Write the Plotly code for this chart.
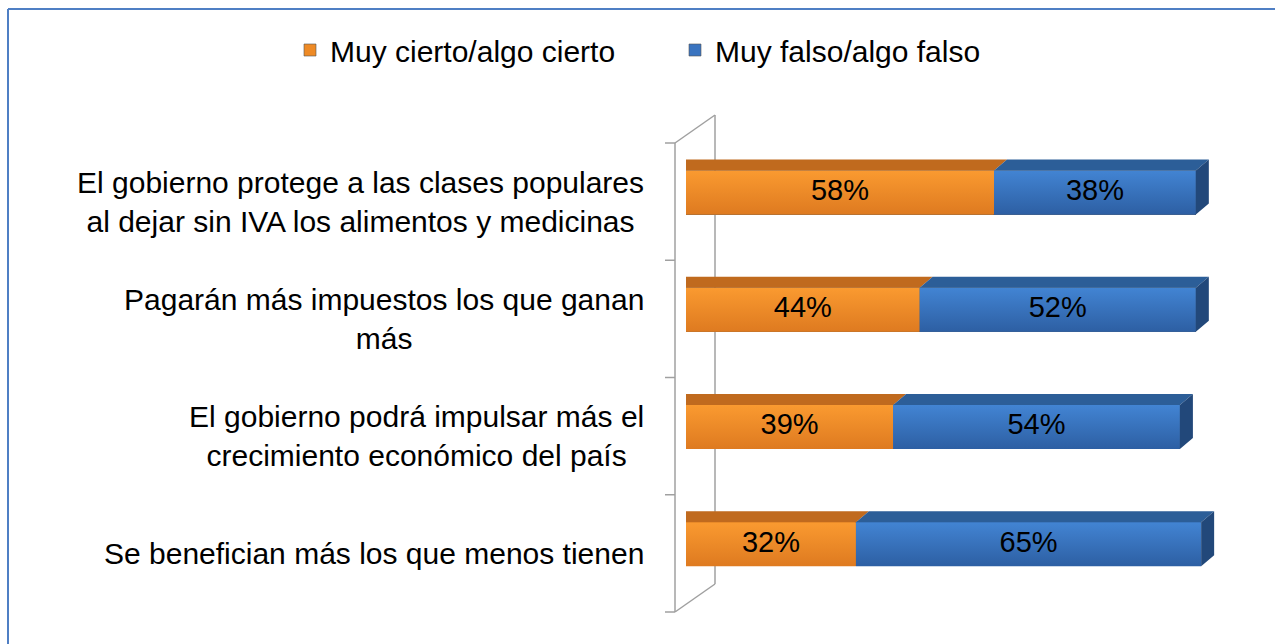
import plotly.graph_objects as go

categories = [
    "El gobierno protege a las clases populares<br>al dejar sin IVA los alimentos y medicinas",
    "Pagarán más impuestos los que ganan<br>más",
    "El gobierno podrá impulsar más el<br>crecimiento económico del país",
    "Se benefician más los que menos tienen",
]
cierto = [58, 44, 39, 32]
falso = [38, 52, 54, 65]
series_names = ["Muy cierto/algo cierto", "Muy falso/algo falso"]

FONT = "Liberation Sans, Arial, sans-serif"
ORANGE = "#EE8A25"
ORANGE_GRAD = ["#FA9A30", "#DE7A20"]
BLUE = "#3A74C0"
BLUE_GRAD = ["#4284D3", "#2D5FA3"]
ORANGE_TOP = "#C06A1E"
BLUE_TOP = "#2C5E98"
BLUE_CAP = "#22487A"

W, H = 1275, 644
ML, MR, MT, MB = 686, 25, 143, 32
PW = W - ML - MR
PH = H - MT - MB
XMAX = 106.2
n = len(categories)
ypos = list(range(n))

BAR_W = 0.375
SHIFT = -0.077          # bars sit slightly above band centre (3D look)
DX = 13 / PW * XMAX     # depth in x units
DY = 11 / PH * n        # depth in y units
LABEL_SIZE = 30
VALUE_SIZE = 29

fig = go.Figure()
for vals, name, col in [(cierto, series_names[0], ORANGE), (falso, series_names[1], BLUE)]:
    fig.add_trace(go.Bar(
        y=[p + SHIFT for p in ypos], x=vals, orientation="h", name=name,
        marker=dict(color=col, line=dict(width=0.6, color="#555555")), width=BAR_W,
        hoverinfo="skip",
    ))

# gradient front faces (drawn over the bars, same geometry)
for i in range(n):
    yc = ypos[i] + SHIFT
    yt, yb = yc - BAR_W / 2, yc + BAR_W / 2
    segs = [(0, cierto[i], ORANGE_GRAD), (cierto[i], cierto[i] + falso[i], BLUE_GRAD)]
    for x0, x1, grad in segs:
        fig.add_trace(go.Scatter(
            x=[x0, x1, x1, x0, x0], y=[yt, yt, yb, yb, yt], mode="lines", fill="toself",
            line=dict(width=0), fillgradient=dict(type="vertical", colorscale=[[0, grad[1]], [1, grad[0]]]),
            showlegend=False, hoverinfo="skip"))

# 3D top faces and end caps
def top_poly(x0, x1, yc, first):
    yt = yc - BAR_W / 2
    xl = x0 if first else x0 + DX
    return [x0, x1, x1 + DX, xl, x0, None], [yt, yt, yt - DY, yt - DY, yt, None]

ox, oy, bx, by, cx, cy = [], [], [], [], [], []
for i in range(n):
    yc = ypos[i] + SHIFT
    a, b = top_poly(0, cierto[i], yc, True)
    ox += a; oy += b
    a, b = top_poly(cierto[i], cierto[i] + falso[i], yc, False)
    bx += a; by += b
    xe = cierto[i] + falso[i]
    yt, yb = yc - BAR_W / 2, yc + BAR_W / 2
    cx += [xe, xe + DX, xe + DX, xe, xe, None]
    cy += [yt, yt - DY, yb - DY, yb, yt, None]

for xs, ys, col in [(ox, oy, ORANGE_TOP), (bx, by, BLUE_TOP), (cx, cy, BLUE_CAP)]:
    fig.add_trace(go.Scatter(x=xs, y=ys, fill="toself", fillcolor=col, mode="lines",
                             line=dict(width=0, color=col), showlegend=False, hoverinfo="skip"))

# value labels
tx, ty, tt = [], [], []
for i in range(n):
    yc = ypos[i] + SHIFT
    tx += [cierto[i] / 2, cierto[i] + falso[i] / 2]
    ty += [yc, yc]
    tt += [f"{cierto[i]}%", f"{falso[i]}%"]
fig.add_trace(go.Scatter(x=tx, y=ty, text=tt, mode="text", textposition="middle center",
                         textfont=dict(size=VALUE_SIZE, family=FONT, color="black"),
                         showlegend=False, hoverinfo="skip"))

# category labels (centre-aligned text blocks, right edge near the wall)
for i, c in enumerate(categories):
    fig.add_annotation(x=(646 - ML) / PW, xref="paper", y=ypos[i], yref="y",
                       xanchor="right", yanchor="middle", align="center", showarrow=False,
                       text=c, font=dict(size=LABEL_SIZE, family=FONT, color="black"))

def py(yv):
    return (n - 0.5 - yv) / n
def px(xpix):
    return (xpix - ML) / PW
def pyp(ypix):
    return 1 - (ypix - MT) / PH

GRAY = "#A0A0A0"
wall_left, wall_right = px(675), px(715)
depth_y = 28 / PH
shapes = []
top, bot = py(-0.5), py(n - 0.5)
for (x0, y0, x1, y1) in [(wall_left, bot, wall_left, top),
                         (wall_right, bot + depth_y, wall_right, top + depth_y),
                         (wall_left, top, wall_right, top + depth_y),
                         (wall_left, bot, wall_right, bot + depth_y)]:
    shapes.append(dict(type="line", xref="paper", yref="paper", x0=x0, x1=x1, y0=y0, y1=y1,
                       line=dict(color=GRAY, width=1.5), layer="below"))
for k in range(n + 1):
    yy = py(k - 0.5)
    shapes.append(dict(type="line", xref="paper", yref="paper", x0=px(665), x1=wall_left, y0=yy, y1=yy,
                       line=dict(color=GRAY, width=1.5), layer="below"))
# outer frame (blue, left and top)
shapes.append(dict(type="line", xref="paper", yref="paper", x0=px(8), x1=px(8), y0=pyp(9), y1=pyp(H + 5),
                   line=dict(color="#4F7FC4", width=2)))
shapes.append(dict(type="line", xref="paper", yref="paper", x0=px(8), x1=px(W + 5), y0=pyp(9), y1=pyp(9),
                   line=dict(color="#4F7FC4", width=2)))

fig.update_layout(
    width=W, height=H, barmode="stack", bargap=0,
    margin=dict(l=ML, r=MR, t=MT, b=MB),
    paper_bgcolor="white", plot_bgcolor="rgba(0,0,0,0)",
    font=dict(family=FONT, size=LABEL_SIZE, color="black"),
    shapes=shapes,
    showlegend=True,
    legend=dict(orientation="h", xref="paper", yref="paper", x=px(290), xanchor="left",
                y=pyp(50), yanchor="middle", font=dict(size=LABEL_SIZE, family=FONT),
                traceorder="normal", itemwidth=30, bgcolor="rgba(0,0,0,0)",
                entrywidth=340, entrywidthmode="pixels"),
    xaxis=dict(range=[0, XMAX], visible=False),
    yaxis=dict(range=[n - 0.5, -0.5], visible=False),
)

fig.write_html("out.html", config={"displayModeBar": False},
               post_script="document.body.style.margin='0';")
